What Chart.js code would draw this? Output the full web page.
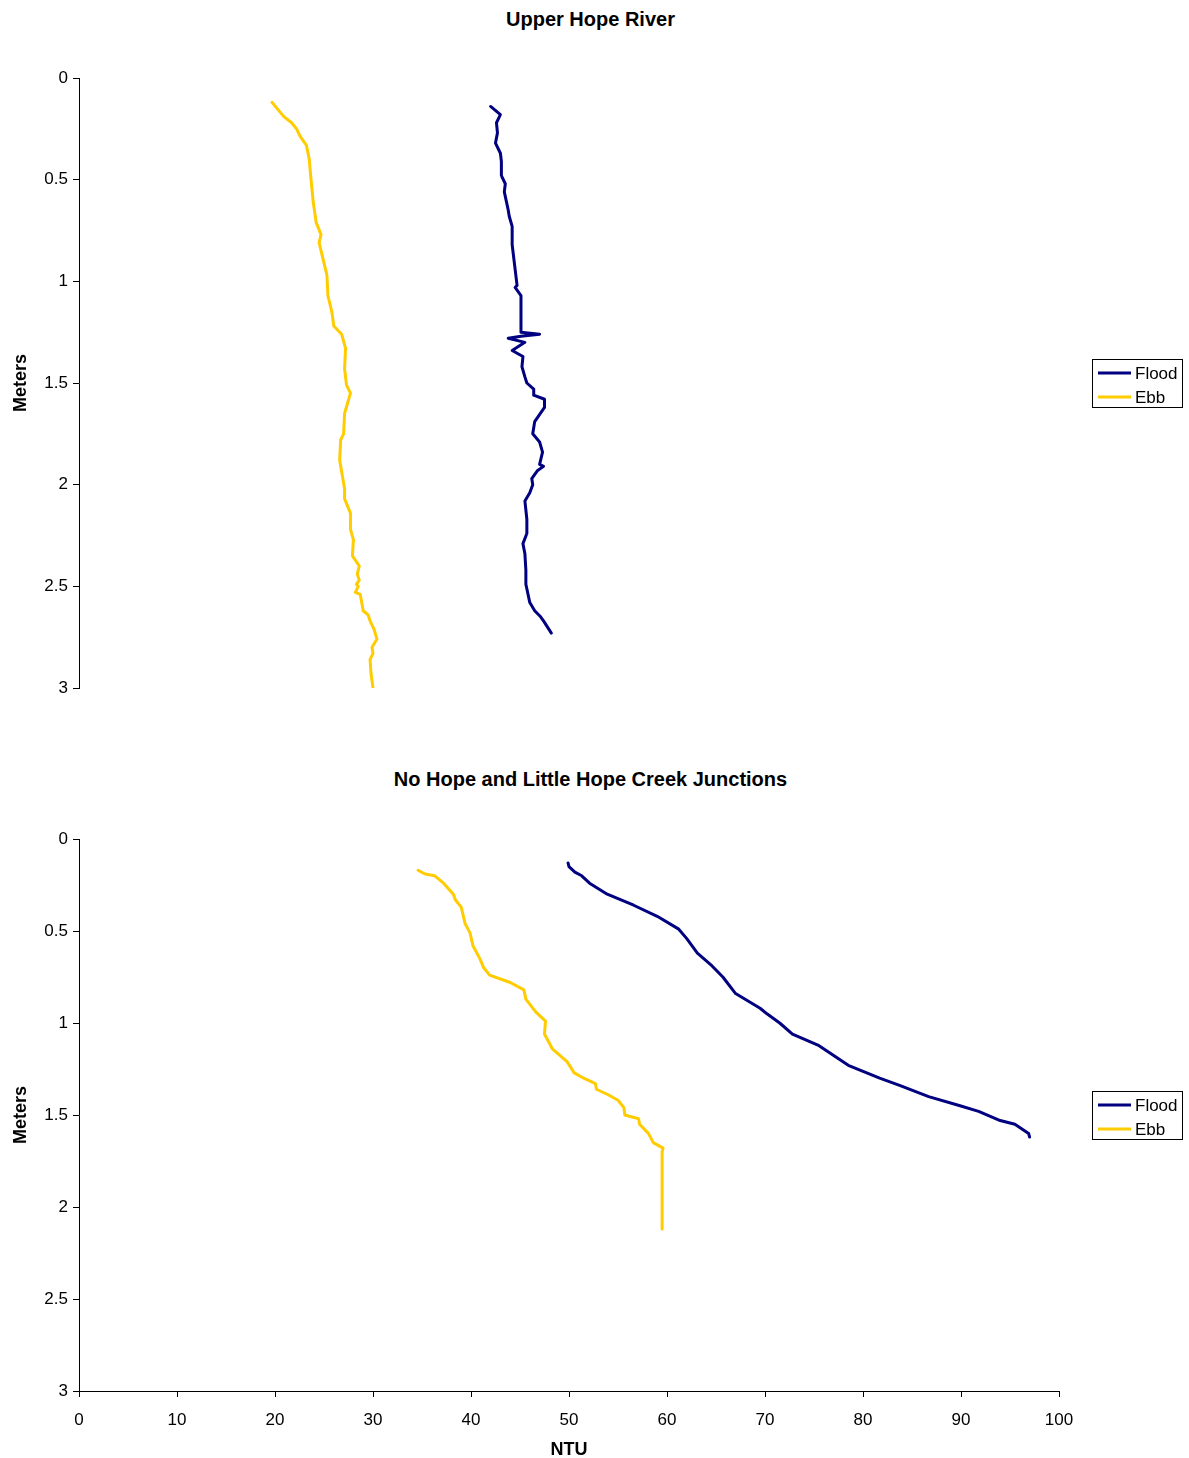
<!DOCTYPE html>
<html>
<head>
<meta charset="utf-8">
<title>Turbidity profiles</title>
<script src="https://cdn.jsdelivr.net/npm/chart.js@4.4.1/dist/chart.umd.min.js"></script>
<style>
  body { margin: 0; background: #fff; }
  .panel { position: absolute; left: 0; }
  .title {
    position: absolute; left: 0; width: 1181px; text-align: center;
    font: bold 20px 'Liberation Sans', Arial, sans-serif; color: #000;
    line-height: 24px;
  }
  #upper { top: 0; }
  #junction { top: 760px; }
</style>
</head>
<body>
<div class="title" style="top: 7px;">Upper Hope River</div>
<div class="title" style="top: 767px;">No Hope and Little Hope Creek Junctions</div>
<canvas id="upper" class="panel" width="1189" height="720"></canvas>
<canvas id="junction" class="panel" width="1189" height="698"></canvas>
<script>
// Tick labels
const depthTicks = [0, 0.5, 1, 1.5, 2, 2.5, 3];
const ntuTicks = [0, 10, 20, 30, 40, 50, 60, 70, 80, 90, 100];

// Series names
const seriesNames = ["Flood", "Ebb"];

// Upper Hope River - Flood
const upperFloodNtu = [42.0, 43.0, 42.6, 42.7, 42.5, 43.0, 43.1, 43.1, 43.5, 43.4, 43.8, 43.9, 44.2, 44.2, 44.5, 44.7, 44.5, 45.1, 45.1, 47.0, 45.1, 43.8, 45.5, 44.2, 45.3, 45.2, 45.5, 45.7, 46.4, 46.4, 47.5, 47.5, 46.5, 46.3, 47.0, 47.3, 47.0, 47.4, 46.8, 46.2, 46.3, 46.0, 45.5, 45.7, 45.7, 45.3, 45.5, 45.6, 45.6, 46.0, 46.5, 47.1, 47.4, 48.2];
const upperFloodDepth = [0.14, 0.18, 0.22, 0.27, 0.32, 0.37, 0.41, 0.48, 0.52, 0.56, 0.65, 0.68, 0.73, 0.82, 0.94, 1.02, 1.03, 1.07, 1.25, 1.26, 1.27, 1.28, 1.30, 1.34, 1.37, 1.42, 1.47, 1.50, 1.53, 1.56, 1.58, 1.62, 1.69, 1.75, 1.79, 1.84, 1.90, 1.91, 1.93, 1.97, 2.00, 2.04, 2.08, 2.17, 2.24, 2.29, 2.34, 2.42, 2.49, 2.58, 2.62, 2.65, 2.67, 2.73];

// Upper Hope River - Ebb
const upperEbbNtu = [19.7, 20.9, 21.7, 22.2, 22.6, 23.2, 23.5, 23.6, 23.9, 24.2, 24.7, 24.5, 25.3, 25.4, 25.8, 26.0, 26.8, 27.2, 27.1, 27.3, 27.7, 27.1, 27.0, 26.7, 26.6, 27.1, 27.1, 27.7, 27.7, 28.0, 27.9, 28.6, 28.4, 28.6, 28.3, 28.5, 28.2, 28.7, 29.0, 29.5, 29.7, 30.1, 30.4, 29.9, 30.0, 29.7, 29.8, 30.0];
const upperEbbDepth = [0.12, 0.19, 0.22, 0.25, 0.29, 0.33, 0.40, 0.46, 0.61, 0.71, 0.77, 0.81, 0.97, 1.07, 1.15, 1.22, 1.26, 1.33, 1.43, 1.51, 1.55, 1.65, 1.75, 1.78, 1.88, 2.02, 2.07, 2.14, 2.22, 2.27, 2.35, 2.40, 2.44, 2.47, 2.49, 2.50, 2.53, 2.54, 2.62, 2.64, 2.67, 2.71, 2.76, 2.80, 2.83, 2.86, 2.93, 3.00];

// No Hope / Little Hope junctions - Flood
const junctionFloodNtu = [49.9, 50.0, 50.6, 51.3, 52.1, 53.9, 56.6, 59.0, 61.2, 62.0, 63.1, 64.6, 65.7, 67.0, 69.5, 70.2, 71.5, 72.8, 75.4, 78.5, 81.7, 83.8, 86.7, 89.9, 91.8, 94.0, 95.5, 96.9, 97.0];
const junctionFloodDepth = [0.13, 0.15, 0.18, 0.20, 0.24, 0.30, 0.36, 0.42, 0.49, 0.54, 0.62, 0.69, 0.75, 0.84, 0.92, 0.95, 1.00, 1.06, 1.12, 1.23, 1.30, 1.34, 1.40, 1.45, 1.48, 1.53, 1.55, 1.60, 1.62];

// No Hope / Little Hope junctions - Ebb
const junctionEbbNtu = [34.6, 35.3, 36.3, 37.2, 38.2, 38.4, 39.0, 39.4, 39.9, 40.2, 40.9, 41.3, 41.9, 44.0, 45.4, 45.6, 46.6, 47.6, 47.5, 47.7, 48.3, 49.8, 50.4, 50.5, 51.5, 52.7, 52.8, 54.0, 55.0, 55.6, 55.7, 57.1, 57.2, 58.1, 58.6, 59.6, 59.5, 59.5];
const junctionEbbDepth = [0.17, 0.19, 0.20, 0.24, 0.30, 0.33, 0.37, 0.46, 0.51, 0.58, 0.65, 0.70, 0.74, 0.78, 0.82, 0.87, 0.94, 0.99, 1.06, 1.08, 1.14, 1.21, 1.26, 1.27, 1.30, 1.33, 1.36, 1.39, 1.42, 1.46, 1.50, 1.52, 1.55, 1.60, 1.65, 1.68, 1.70, 2.12];

const floodColor = "#000080";
const ebbColor = "#FFCC00";
const FONT = "'Liberation Sans', Arial, sans-serif";

function toPoints(xs, ys) {
  return xs.map((x, i) => ({ x: x, y: ys[i] }));
}

function makeDataset(label, color, xs, ys) {
  return {
    label: label,
    data: toPoints(xs, ys),
    showLine: true,
    borderColor: color,
    backgroundColor: color,
    borderWidth: 3,
    borderJoinStyle: "round",
    borderCapStyle: "round",
    pointRadius: 0,
    tension: 0,
  };
}

// legend box to the right of the plot, like the spreadsheet one
const legendBox = {
  id: "legendBox",
  afterDraw(chart) {
    const { ctx, chartArea } = chart;
    const w = 90, h = 48;
    const x = Math.round(chartArea.right + 33);
    const y = Math.round((chartArea.top + chartArea.bottom) / 2 - h / 2);
    ctx.save();
    ctx.strokeStyle = "#000";
    ctx.lineWidth = 1;
    ctx.strokeRect(x + 0.5, y + 0.5, w, h);
    chart.data.datasets.forEach((ds, i) => {
      const ly = y + 14 + i * 24;
      ctx.strokeStyle = ds.borderColor;
      ctx.lineWidth = 3;
      ctx.beginPath();
      ctx.moveTo(x + 6, ly);
      ctx.lineTo(x + 39, ly);
      ctx.stroke();
      ctx.fillStyle = "#000";
      ctx.font = "17px " + FONT;
      ctx.textBaseline = "middle";
      ctx.fillText(ds.label, x + 43, ly + 1);
    });
    ctx.restore();
  },
};

function makeChart(canvasId, flood, ebb, showX, pad) {
  const ctx = document.getElementById(canvasId).getContext("2d");
  return new Chart(ctx, {
    type: "scatter",
    data: {
      datasets: [
        makeDataset(seriesNames[0], floodColor, flood[0], flood[1]),
        makeDataset(seriesNames[1], ebbColor, ebb[0], ebb[1]),
      ],
    },
    options: {
      responsive: false,
      animation: false,
      devicePixelRatio: 1,
      layout: { padding: pad },
      plugins: {
        legend: { display: false },
        tooltip: { enabled: false },
        title: { display: false },
      },
      scales: {
        x: {
          type: "linear",
          display: showX,
          min: 0,
          max: 100,
          afterBuildTicks: (scale) => {
            scale.ticks = ntuTicks.map((v) => ({ value: v }));
          },
          afterFit: (scale) => {
            if (showX) scale.height = 67;
          },
          grid: {
            drawOnChartArea: false,
            drawTicks: true,
            tickLength: 6,
            color: "#000",
          },
          border: { display: true, color: "#000", width: 1 },
          ticks: {
            color: "#000",
            padding: 13,
            maxRotation: 0,
            autoSkip: false,
            font: { family: FONT, size: 17 },
          },
          title: {
            display: true,
            text: "NTU",
            color: "#000",
            font: { family: FONT, size: 18, weight: "bold" },
            // negative bottom padding nudges the title a few px lower
            padding: { top: 0, bottom: -3 },
          },
        },
        y: {
          type: "linear",
          reverse: true,
          min: 0,
          max: 3,
          afterBuildTicks: (scale) => {
            scale.ticks = depthTicks.map((v) => ({ value: v }));
          },
          afterFit: (scale) => {
            scale.width = 79;
          },
          grid: {
            drawOnChartArea: false,
            drawTicks: true,
            tickLength: 6,
            color: "#000",
          },
          border: { display: true, color: "#000", width: 1 },
          ticks: {
            color: "#000",
            padding: 5,
            font: { family: FONT, size: 17 },
            callback: (value) => String(value),
          },
          title: {
            display: true,
            text: "Meters",
            color: "#000",
            font: { family: FONT, size: 18, weight: "bold" },
            padding: { top: 10, bottom: 0 },
          },
        },
      },
    },
    plugins: [legendBox],
  });
}

makeChart("upper", [upperFloodNtu, upperFloodDepth], [upperEbbNtu, upperEbbDepth], false,
  { left: 0, right: 130, top: 78, bottom: 32 });

makeChart("junction", [junctionFloodNtu, junctionFloodDepth], [junctionEbbNtu, junctionEbbDepth], true,
  { left: 0, right: 130, top: 79, bottom: 0 });
</script>
</body>
</html>
